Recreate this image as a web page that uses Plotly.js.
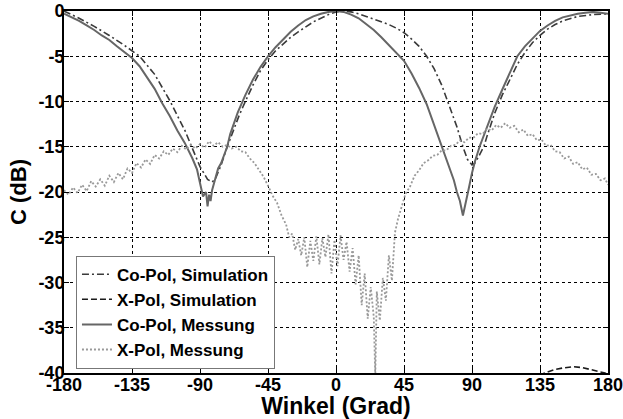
<!DOCTYPE html>
<html><head><meta charset="utf-8">
<script src="https://cdn.plot.ly/plotly-3.0.1.min.js"></script>
<style>html,body{margin:0;padding:0;background:#fff}</style>
</head><body><div id="chart" style="width:623px;height:419px"></div>
<script>
// Co-Pol, Simulation
const coSimX = [-180,-170,-160,-150,-140,-135,-130,-120,-110,-100,-95,-90,-85,-82,-80,-76,-72,-68,-64,-60,-55,-50,-45,-40,-35,-30,-25,-20,-15,-10,-5,0,3,5,10,15,20,25,30,35,40,45,50,55,60,65,70,75,80,84,87,90,92,95,98,100,105,110,115,120,125,130,135,140,145,150,160,170,180];
const coSimY = [0,-0.8,-1.7,-2.7,-3.8,-4.4,-5.0,-7.0,-9.9,-13.2,-15.1,-17.2,-18.6,-18.9,-18.6,-17.0,-15.0,-13.2,-11.5,-10.0,-8.2,-6.6,-5.4,-4.4,-3.6,-2.9,-2.3,-1.7,-1.2,-0.8,-0.4,-0.1,0,0,-0.1,-0.3,-0.6,-0.9,-1.2,-1.5,-1.9,-2.4,-3.1,-3.9,-5.0,-6.4,-8.2,-10.4,-12.8,-15.0,-16.4,-17.0,-16.8,-15.9,-14.9,-13.8,-11.3,-9.3,-7.6,-5.9,-4.6,-3.5,-2.7,-2.0,-1.5,-1.1,-0.6,-0.4,-0.3];

// X-Pol, Simulation (only the part above -40 dB is visible)
const xSimX = [120,130,138,145,150,157,163,168,174,178,180];
const xSimY = [-42,-40.8,-40.0,-39.6,-39.45,-39.3,-39.4,-39.6,-39.8,-40.0,-40.2];

// Co-Pol, Messung
const coMesX = [-180,-175,-170,-165,-160,-155,-150,-145,-140,-135,-130,-125,-120,-115,-110,-105,-100,-95,-92,-90,-88,-86,-85,-84,-83,-82,-80,-78,-76,-74,-72,-70,-65,-60,-55,-50,-45,-40,-35,-30,-25,-20,-15,-10,-5,0,5,10,15,20,25,30,35,40,45,50,55,60,65,70,75,78,80,82,84,86,88,90,92,95,100,105,110,115,120,125,130,135,140,145,150,155,160,165,170,175,180];
const coMesY = [-0.3,-0.7,-1.1,-1.6,-2.1,-2.7,-3.2,-3.9,-4.5,-5.2,-6.1,-7.3,-8.6,-10.2,-11.6,-13.2,-14.6,-16.3,-17.5,-19.0,-20.5,-20.0,-21.6,-20.3,-21.0,-19.8,-18.6,-17.4,-16.8,-15.8,-15.0,-13.6,-11.2,-9.3,-7.6,-6.2,-5.0,-4.0,-3.1,-2.3,-1.6,-1.0,-0.6,-0.3,-0.1,0,-0.1,-0.4,-0.8,-1.4,-2.1,-2.9,-3.8,-4.6,-5.5,-6.9,-8.5,-10.3,-12.6,-15.0,-17.2,-18.7,-20.0,-21.0,-22.6,-21.2,-19.5,-17.9,-16.6,-15.0,-12.7,-10.6,-8.7,-6.8,-5.0,-3.9,-3.0,-2.2,-1.6,-1.1,-0.7,-0.5,-0.3,-0.2,-0.1,-0.2,-0.3];

// X-Pol, Messung
const xMesX = [-180,-177,-174,-171,-168,-165,-162,-159,-156,-153,-150,-147,-144,-141,-138,-135,-132,-129,-126,-123,-120,-117,-114,-111,-108,-105,-102,-99,-96,-93,-90,-87,-84,-81,-78,-75,-72,-69,-66,-63,-60,-57,-54,-51,-48,-45,-42,-39,-36,-33,-31,-29,-27,-25,-23,-21,-19,-17,-15,-13,-11,-9,-7,-5,-3,-1,1,3,5,7,9,11,13,15,17,19,21,23,25,26,27,29,31,33,35,37,39,41,43,46,49,52,55,58,61,64,67,70,73,76,79,82,85,88,91,94,97,100,103,106,109,112,115,118,121,124,127,130,133,136,139,142,145,148,151,154,157,160,163,166,169,172,175,178,180];
const xMesY = [-19.8,-20.3,-19.5,-20.1,-19.2,-19.9,-18.8,-19.4,-18.6,-19.3,-18.2,-18.9,-17.9,-18.6,-17.4,-17.9,-16.8,-17.3,-16.4,-16.9,-15.9,-16.3,-15.5,-15.9,-15.2,-15.6,-14.9,-15.3,-14.8,-15.2,-14.7,-15.1,-14.4,-14.9,-14.5,-15.0,-14.8,-15.2,-15.0,-15.5,-15.6,-16.3,-16.8,-17.6,-18.3,-19.3,-20.4,-21.2,-22.6,-23.6,-25.0,-24.6,-26.4,-25.2,-27.0,-25.0,-28.3,-25.4,-27.6,-24.9,-28.0,-25.1,-27.2,-24.7,-29.0,-25.3,-28.2,-24.8,-27.5,-25.5,-28.8,-26.2,-30.2,-27.0,-32.5,-29.0,-34.0,-30.5,-33.8,-40.5,-31.0,-34.2,-29.5,-32.0,-27.0,-29.8,-24.5,-23.0,-21.8,-20.2,-19.4,-18.2,-17.6,-16.8,-16.5,-16.0,-15.9,-15.4,-15.4,-14.9,-14.8,-14.3,-14.5,-14.0,-14.0,-13.5,-13.6,-13.0,-13.2,-12.6,-12.9,-12.4,-12.9,-12.7,-13.4,-13.1,-13.8,-13.6,-14.3,-14.2,-14.9,-14.8,-15.5,-15.6,-16.3,-16.1,-16.9,-16.7,-17.5,-17.3,-18.1,-18.0,-18.7,-18.5,-19.2];

const xTicks = [-180,-135,-90,-45,0,45,90,135,180];
const xTickText = ['-180','-135','-90','-45','0','45','90','135','180'];
const yTicks = [-40,-35,-30,-25,-20,-15,-10,-5,0];
const yTickText = ['-40','-35','-30','-25','-20','-15','-10','-5','0'];

const traces = [
  {x: coSimX, y: coSimY, name: 'Co-Pol, Simulation', mode: 'lines',
   line: {color: '#3a3a3a', width: 1.6, dash: '7px,3px,2px,3px'}},
  {x: xSimX, y: xSimY, name: 'X-Pol, Simulation', mode: 'lines',
   line: {color: '#1a1a1a', width: 1.6, dash: '6px,3px'}},
  {x: coMesX, y: coMesY, name: 'Co-Pol, Messung', mode: 'lines',
   line: {color: '#666666', width: 2}},
  {x: xMesX, y: xMesY, name: 'X-Pol, Messung', mode: 'lines',
   line: {color: '#999999', width: 1.8, dash: '2px,2px'}}
];

const fam = 'Liberation Sans, Arial, sans-serif';
const axisFont = {family: fam, size: 18, color: '#000', weight: 'bold'};

const layout = {
  width: 623, height: 419,
  margin: {l: 64, r: 15, t: 11, b: 46},
  paper_bgcolor: '#fff', plot_bgcolor: '#fff',
  showlegend: true,
  legend: {x: 0.022, y: 0.012, xanchor: 'left', yanchor: 'bottom',
    bgcolor: '#fff', bordercolor: '#777', borderwidth: 1,
    font: {family: fam, size: 17, color: '#000', weight: 'bold'},
    tracegroupgap: 0, itemwidth: 30},
  xaxis: {range: [-180, 180], tickvals: xTicks, ticktext: xTickText,
    showgrid: true, gridcolor: '#000', griddash: 'dot', gridwidth: 1,
    showline: true, linecolor: '#000', linewidth: 2, mirror: 'ticks',
    ticks: 'inside', ticklen: 5, tickcolor: '#000', zeroline: false,
    tickfont: axisFont, ticklabelstandoff: -6, ticklabeloverflow: 'allow',
    title: {text: 'Winkel (Grad)', standoff: 2,
      font: {family: fam, size: 23, color: '#000', weight: 'bold'}}},
  yaxis: {range: [-40, 0], tickvals: yTicks, ticktext: yTickText,
    showgrid: true, gridcolor: '#000', griddash: 'dot', gridwidth: 1,
    showline: true, linecolor: '#000', linewidth: 2, mirror: 'ticks',
    ticks: 'inside', ticklen: 5, tickcolor: '#000', zeroline: false,
    tickfont: axisFont, ticklabelstandoff: -6, ticklabeloverflow: 'allow',
    title: {text: 'C (dB)', standoff: 6,
      font: {family: fam, size: 22, color: '#000', weight: 'bold'}}}
};

Plotly.newPlot('chart', traces, layout, {displayModeBar: false, staticPlot: true});
</script>
</body></html>
